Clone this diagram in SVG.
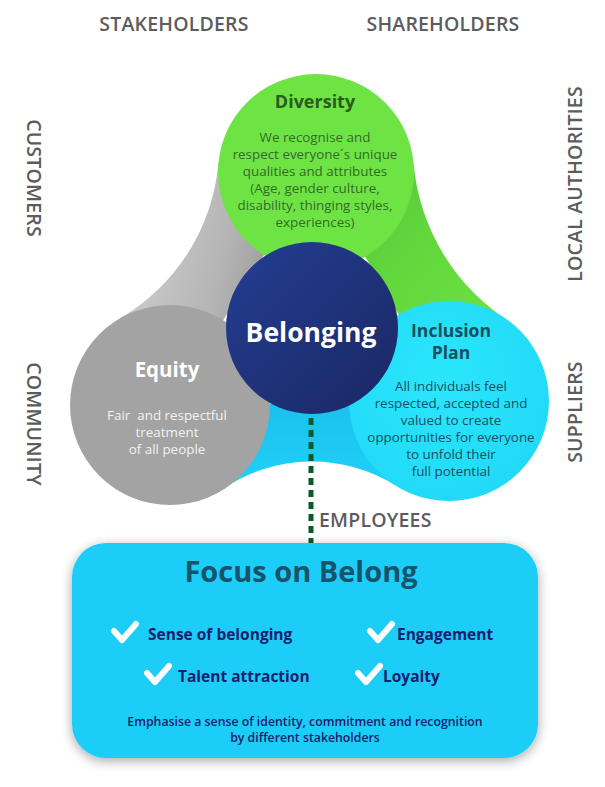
<svg xmlns="http://www.w3.org/2000/svg" width="605" height="787" viewBox="0 0 605 787">
<style>
.lbl{font-family:"Open Sans","Liberation Sans",sans-serif;font-weight:600;font-size:19.5px;letter-spacing:0.2px;fill:#5c5c5c}
.ttl{font-family:"Open Sans","Liberation Sans",sans-serif;font-weight:700;text-anchor:middle}
.body{font-family:"Open Sans","Liberation Sans",sans-serif;font-size:13.4px;text-anchor:middle}
.note{font-family:"Open Sans","Liberation Sans",sans-serif;font-size:12.3px;font-weight:600;text-anchor:middle;fill:#1a2068}
.item{font-family:"Open Sans","Liberation Sans",sans-serif;font-weight:700;font-size:15.5px;fill:#17206a}
.chk{fill:none;stroke:#ffffff;stroke-width:6;stroke-linecap:round;stroke-linejoin:round}
</style>
<defs>
<linearGradient id="gGray" x1="0" y1="0" x2="1" y2="0.3">
<stop offset="0" stop-color="#d6d6d6"/><stop offset="0.6" stop-color="#b4b4b4"/><stop offset="1" stop-color="#8a8a8a"/>
</linearGradient>
<linearGradient id="gGreen" x1="0" y1="0" x2="1" y2="1">
<stop offset="0" stop-color="#4fbf33"/><stop offset="0.45" stop-color="#63d83d"/><stop offset="1" stop-color="#6de544"/>
</linearGradient>
<linearGradient id="gCyan" x1="0" y1="0" x2="0" y2="1">
<stop offset="0" stop-color="#1cbfee"/><stop offset="1" stop-color="#1fd2f8"/>
</linearGradient>
<linearGradient id="gNavy" x1="0" y1="0" x2="1" y2="1">
<stop offset="0" stop-color="#243e93"/><stop offset="1" stop-color="#1a2763"/>
</linearGradient>
<radialGradient id="gIncl" cx="0.45" cy="0.4" r="0.6">
<stop offset="0" stop-color="#2ae6fc"/><stop offset="1" stop-color="#22daf7"/>
</radialGradient>
<filter id="shadow" x="-10%" y="-10%" width="120%" height="130%">
<feGaussianBlur in="SourceAlpha" stdDeviation="6"/>
<feOffset dx="0" dy="3"/>
<feComponentTransfer><feFuncA type="linear" slope="0.35"/></feComponentTransfer>
<feMerge><feMergeNode/><feMergeNode in="SourceGraphic"/></feMerge>
</filter>
</defs>
<rect width="605" height="787" fill="#ffffff"/>

<g id="stakeholder-labels">
<text class="lbl" x="174" y="31" text-anchor="middle">STAKEHOLDERS</text>
<text class="lbl" x="443" y="31" text-anchor="middle">SHAREHOLDERS</text>
<text class="lbl" transform="translate(27,178) rotate(90)" text-anchor="middle">CUSTOMERS</text>
<text class="lbl" transform="translate(27,424) rotate(90)" text-anchor="middle">COMMUNITY</text>
<text class="lbl" transform="translate(582,184) rotate(-90)" text-anchor="middle">LOCAL AUTHORITIES</text>
<text class="lbl" transform="translate(582,412) rotate(-90)" text-anchor="middle">SUPPLIERS</text>
</g>

<g id="fillets">
<path d="M316 172 L218.4 163.3 A200 200 0 0 1 119.7 318.5 L170 405 Z" fill="url(#gGray)"/>
<path d="M316 172 L413.7 164.7 A210 210 0 0 0 510 322 L449 401 Z" fill="url(#gGreen)"/>
<path d="M170 405 L224.1 488.3 A158 158 0 0 1 395.3 485.3 L449 401 Z" fill="url(#gCyan)"/>
</g>

<g id="node-equity">
<circle cx="170" cy="405" r="100" fill="#a3a3a3"/>
<text class="ttl" x="167" y="377" font-size="20.5" fill="#ffffff">Equity</text>
<text class="body" fill="#f2f2f2"><tspan x="167" y="420" xml:space="preserve">Fair  and respectful</tspan><tspan x="167" y="437">treatment</tspan><tspan x="167" y="454">of all people</tspan></text>
</g>

<g id="node-inclusion">
<circle cx="449" cy="401" r="100" fill="url(#gIncl)"/>
<text class="ttl" font-size="17.6" fill="#17505f"><tspan x="451" y="337">Inclusion</tspan><tspan x="451" y="359">Plan</tspan></text>
<text class="body" fill="#1b4f5e"><tspan x="451" y="391">All individuals feel</tspan><tspan x="451" y="408">respected, accepted and</tspan><tspan x="451" y="425">valued to create</tspan><tspan x="451" y="442">opportunities for everyone</tspan><tspan x="451" y="459">to unfold their</tspan><tspan x="451" y="476">full potential</tspan></text>
</g>

<g id="node-diversity">
<circle cx="316" cy="172" r="98" fill="#6de444"/>
<text class="ttl" x="315" y="108" font-size="18" fill="#2c5a20">Diversity</text>
<text class="body" fill="#356b27"><tspan x="315" y="142">We recognise and</tspan><tspan x="315" y="159">respect everyone´s unique</tspan><tspan x="315" y="176">qualities and attributes</tspan><tspan x="315" y="193">(Age, gender culture,</tspan><tspan x="315" y="210">disability, thinging styles,</tspan><tspan x="315" y="227">experiences)</tspan></text>
</g>

<g id="node-belonging">
<circle cx="312" cy="328" r="86" fill="url(#gNavy)"/>
<text class="ttl" x="311" y="342" font-size="26.5" fill="#ffffff">Belonging</text>
</g>

<g id="connectors">
<line x1="311" y1="418" x2="311" y2="545" stroke="#0b5a2c" stroke-width="5" stroke-dasharray="7 5"/>
</g>

<g id="label-employees">
<text class="lbl" x="319" y="527">EMPLOYEES</text>
</g>

<g id="node-focus">
<rect x="72" y="543" width="466" height="215" rx="34" fill="#1acdf8" filter="url(#shadow)"/>
<text class="ttl" x="301" y="582" font-size="29" fill="#17536a">Focus on Belong</text>
<path class="chk" d="M114 631 L122 640 L136 624"/>
<text class="item" x="148" y="640">Sense of belonging</text>
<path class="chk" d="M370 631 L378 640 L392 624"/>
<text class="item" x="397" y="640">Engagement</text>
<path class="chk" d="M147 673 L155 682 L169 666"/>
<text class="item" x="178" y="682">Talent attraction</text>
<path class="chk" d="M358 673 L366 682 L380 666"/>
<text class="item" x="383" y="682">Loyalty</text>
<text class="note"><tspan x="305" y="726">Emphasise a sense of identity, commitment and recognition</tspan><tspan x="305" y="742">by different stakeholders</tspan></text>
</g>
</svg>
